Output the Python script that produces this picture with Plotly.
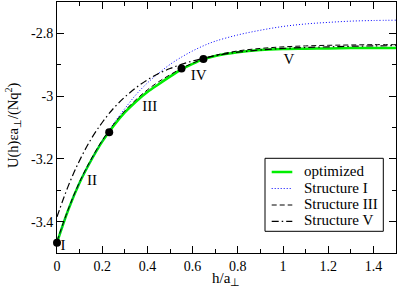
import plotly.graph_objects as go

h = [0, 0.05, 0.1, 0.15, 0.2, 0.25, 0.3, 0.35, 0.4, 0.45, 0.5, 0.55, 0.6, 0.65,
     0.7, 0.8, 0.9, 1.0, 1.1, 1.2, 1.3, 1.4, 1.5]

optimized = [-3.467, -3.362, -3.276, -3.206, -3.145, -3.095, -3.052, -3.017, -2.987,
             -2.962, -2.938, -2.915, -2.897, -2.882, -2.872, -2.860, -2.853, -2.850,
             -2.849, -2.848, -2.847, -2.847, -2.847]
structure_1 = [-3.467, -3.362, -3.276, -3.206, -3.143, -3.088, -3.040, -2.995, -2.958,
               -2.927, -2.899, -2.876, -2.856, -2.839, -2.825, -2.805, -2.790, -2.778,
               -2.770, -2.765, -2.761, -2.759, -2.758]
structure_3 = [-3.462, -3.360, -3.273, -3.202, -3.141, -3.090, -3.047, -3.011, -2.980,
               -2.954, -2.932, -2.912, -2.895, -2.881, -2.870, -2.856, -2.848, -2.843,
               -2.840, -2.838, -2.837, -2.836, -2.836]
structure_5 = [-3.385, -3.286, -3.205, -3.138, -3.084, -3.039, -3.003, -2.973, -2.948,
               -2.928, -2.912, -2.899, -2.888, -2.879, -2.871, -2.860, -2.853, -2.848,
               -2.845, -2.843, -2.841, -2.840, -2.839]

series_names = ["optimized", "Structure I", "Structure III", "Structure V"]

dot_h = [0, 0.231, 0.551, 0.648]
dot_u = [-3.467, -3.115, -2.912, -2.882]

label_text = ["I", "II", "III", "IV", "V"]
label_h = [0.027, 0.155, 0.41, 0.627, 1.026]
label_u = [-3.477, -3.27, -3.035, -2.936, -2.886]

x_ticks = [0, 0.2, 0.4, 0.6, 0.8, 1.0, 1.2, 1.4]
x_ticktext = ["0", "0.2", "0.4", "0.6", "0.8", "1", "1.2", "1.4"]
y_ticks = [-3.4, -3.2, -3.0, -2.8]
y_ticktext = ["-3.4", "-3.2", "-3", "-2.8"]

FONT = "Liberation Serif, Times New Roman, serif"

W, H = 399, 290
ML, MR, MT, MB = 57, 3, 2, 37
PW, PH = W - ML - MR, H - MT - MB


def px_x(px):
    return (px - ML) / PW


def px_y(py):
    return 1 - (py - MT) / PH


styles = [
    dict(color="#00ee00", width=2.5),
    dict(color="#0000ff", width=1, dash="1px,2px"),
    dict(color="black", width=1, dash="5px,3px"),
    dict(color="black", width=1.2, dash="7px,3px,1.5px,3px"),
]
series = [optimized, structure_1, structure_3, structure_5]

fig = go.Figure()
for name, ys, st in zip(series_names, series, styles):
    fig.add_trace(go.Scatter(x=h, y=ys, mode="lines", name=name, showlegend=False,
                             line=dict(shape="spline", **st)))
fig.add_trace(go.Scatter(x=dot_h, y=dot_u, mode="markers", showlegend=False,
                         marker=dict(color="black", size=8), cliponaxis=False))
fig.add_trace(go.Scatter(x=label_h, y=label_u, mode="text", text=label_text,
                         showlegend=False, textfont=dict(family=FONT, size=15, color="black"),
                         textposition="middle center", cliponaxis=False))

axis_common = dict(showline=True, linecolor="black", linewidth=1, mirror="ticks",
                   ticks="inside", ticklen=7, tickcolor="black", tickwidth=1,
                   showgrid=False, zeroline=False, automargin=False,
                   tickfont=dict(family=FONT, size=14, color="black"))

fig.update_xaxes(range=[0, 1.5], tickvals=x_ticks, ticktext=x_ticktext,
                 minor=dict(ticks="inside", ticklen=4, dtick=0.1, tick0=0, tickcolor="black", showgrid=False),
                 **axis_common)
fig.update_yaxes(range=[-3.5, -2.7], tickvals=y_ticks, ticktext=y_ticktext,
                 minor=dict(ticks="inside", ticklen=4, dtick=0.1, tick0=-3.5, tickcolor="black", showgrid=False),
                 **axis_common)

# axis titles
fig.add_annotation(text="h/a<sub>⊥</sub>", xref="paper", yref="paper",
                   x=px_x(226), y=px_y(279), xanchor="center", yanchor="middle",
                   showarrow=False, font=dict(family=FONT, size=15, color="black"))
fig.add_annotation(text="U(h)εa<sub>⊥</sub>/(Nq<sup>2</sup>)", xref="paper", yref="paper",
                   x=px_x(13), y=px_y(125), xanchor="center", yanchor="middle",
                   textangle=-90, showarrow=False, font=dict(family=FONT, size=14.5, color="black"))

# legend box drawn by hand
fig.add_shape(type="rect", xref="paper", yref="paper",
              x0=px_x(265), x1=px_x(383.3), y0=px_y(231.3), y1=px_y(158.3),
              line=dict(color="black", width=1), fillcolor="white", layer="above")
row_y = [172, 188.5, 205, 221.3]
for name, st, ry in zip(series_names, styles, row_y):
    fig.add_shape(type="line", xref="paper", yref="paper",
                  x0=px_x(271.7), x1=px_x(292.3), y0=px_y(ry), y1=px_y(ry),
                  line=st, layer="above")
    fig.add_annotation(text=name, xref="paper", yref="paper",
                       x=px_x(302), y=px_y(ry - 1), xanchor="left", yanchor="middle",
                       showarrow=False, font=dict(family=FONT, size=15, color="black"))

fig.update_layout(
    width=W, height=H,
    margin=dict(l=ML, r=MR, t=MT, b=MB),
    plot_bgcolor="white", paper_bgcolor="white",
    font=dict(family=FONT, size=14, color="black"),
    showlegend=False,
)

fig.write_html("out.html", config={"displayModeBar": False},
               post_script="document.body.style.margin='0';document.body.style.overflow='hidden';")
